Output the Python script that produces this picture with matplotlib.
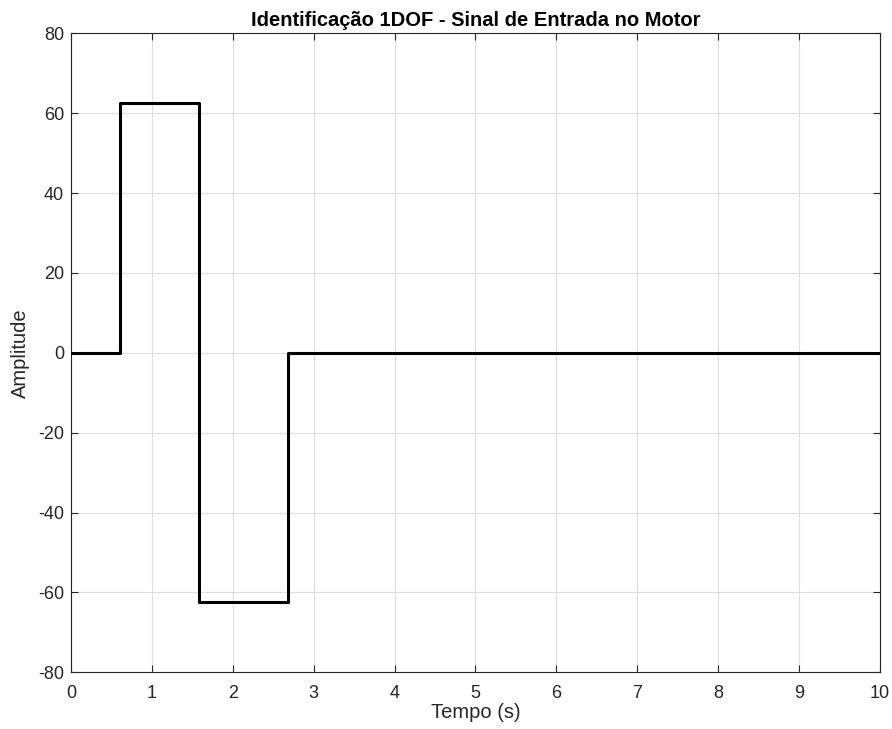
import matplotlib
matplotlib.use("Agg")
import matplotlib.pyplot as plt

# data
t_steps = [0, 0.6, 1.58, 2.68, 10]
amp_steps = [0, 62.5, -62.5, 0, 0]

x_ticks = list(range(0, 11))
y_ticks = list(range(-80, 81, 20))

plt.rcParams['font.family'] = ['Liberation Sans', 'DejaVu Sans']
plt.rcParams['axes.unicode_minus'] = False

fig = plt.figure(figsize=(8.92, 7.29), dpi=100)
ax = fig.add_axes([0.0796, 0.0778, 0.9069, 0.8765])

ax.step(t_steps, amp_steps, where='post', color='black', linewidth=2.2, zorder=3)

ax.set_xlim(0, 10)
ax.set_ylim(-80, 80)
ax.set_xticks(x_ticks)
ax.set_yticks(y_ticks)
ax.grid(True, color='#dedede', linewidth=0.8)
ax.set_axisbelow(True)
for s in ax.spines.values():
    s.set_color('#262626')
    s.set_linewidth(0.8)
ax.tick_params(direction='in', top=True, right=True, length=5, width=0.8,
               colors='#262626', labelsize=13, labelcolor='#262626')
ax.tick_params(axis='x', pad=9)
ax.tick_params(axis='y', pad=5)

ax.set_title('Identificação 1DOF - Sinal de Entrada no Motor', fontsize=14.5,
             fontweight='bold', pad=5)
ax.set_xlabel('Tempo (s)', fontsize=14.5, color='#262626', labelpad=1)
ax.set_ylabel('Amplitude', fontsize=14.5, color='#262626', labelpad=6)

fig.savefig('out.png', dpi=100)
